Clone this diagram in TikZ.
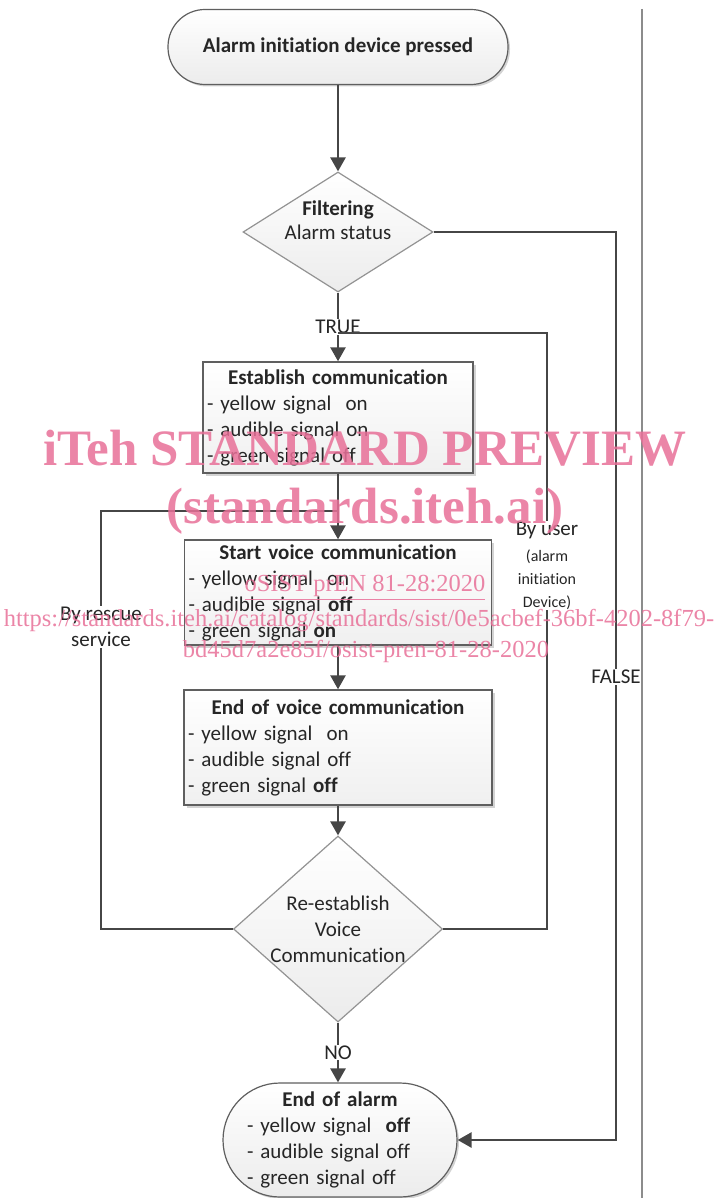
\documentclass[tikz,border=0pt]{standalone}
\usepackage{amsmath,amssymb}
\usepackage{fontspec}
\setmainfont{Carlito}[Ligatures=NoCommon]
\newfontfamily\wmfont{Liberation Serif}
\usepackage{tikz}
\usetikzlibrary{shapes,arrows.meta,positioning,calc,shadows}
\usepackage{xcolor}
\definecolor{linegray}{RGB}{70,70,70}
\definecolor{edgegray}{RGB}{95,95,95}
\definecolor{wmpink}{RGB}{232,112,152}
\newcommand{\boxtitle}[1]{\hfill\textbf{#1}\hfill\null}
\newcommand{\smalllbl}{\fontsize{16}{19}\selectfont}

\begin{document}
\begin{tikzpicture}[x=1pt, y=-1pt,
    every node/.style={font=\fontsize{21}{26}\selectfont, text=black!85},
    terminal/.style={rectangle, draw=edgegray, line width=1.2pt, top color=white, bottom color=gray!15,
        drop shadow={shadow xshift=2pt, shadow yshift=-2pt, opacity=0.35}},
    flowbox/.style={rectangle, draw=edgegray, line width=1.4pt, top color=white, bottom color=gray!12,
        drop shadow={shadow xshift=2.5pt, shadow yshift=-2.5pt, opacity=0.35},
        align=left, inner xsep=4pt, inner ysep=2pt},
    decision/.style={diamond, draw=gray!85, line width=1.2pt, top color=white, bottom color=gray!15, inner sep=0pt},
    conn/.style={draw=linegray, line width=2.6pt},
    arrow/.style={conn, -{Triangle[length=14pt, width=15pt]}},
    lbl/.style={fill=white, inner sep=1pt, align=center},
    wm/.style={text=wmpink, opacity=0.85, anchor=base, inner sep=0pt}]

    \useasboundingbox (0,0) rectangle (718,1198);

    % Start
    \node[terminal, rounded corners=37pt, minimum width=340pt, minimum height=75pt] (start) at (338,47)
        {\textbf{Alarm initiation device pressed}};

    % Filtering
    \node[decision, minimum width=190pt, minimum height=120pt] (filt) at (338,232) {};
    \node[align=center] (filttext) at (338,220) {\textbf{Filtering}\\[-2pt]Alarm status};

    % Communication steps
    \node[flowbox, text width=262pt, minimum height=111pt] (estab) at (338,417.5)
        {\boxtitle{Establish communication}\\- yellow signal \ on\\- audible signal on\\- green signal off};
    \node[flowbox, text width=299pt, minimum height=105pt] (startv) at (338,592.5)
        {\boxtitle{Start voice communication}\\- yellow signal \ on\\- audible signal \textbf{off}\\- green signal \textbf{on}};
    \node[flowbox, text width=300pt, minimum height=115pt] (endv) at (338,747.5)
        {\boxtitle{End of voice communication}\\- yellow signal \ on\\- audible signal off\\- green signal \textbf{off}};

    % Re-establish
    \node[decision, minimum width=209pt, minimum height=186pt] (reest) at (338,929) {};
    \node[align=center] (reesttext) at (338,929) {Re-establish\\Voice\\Communication};

    % End
    \node[terminal, rounded corners=57pt, minimum width=234pt, minimum height=114pt,
        text width=186pt, align=left] (endal) at (340,1140)
        {\boxtitle{End of alarm}\\- yellow signal \ \textbf{off}\\- audible signal off\\- green signal off};

    % Main flow
    \draw[arrow] (start.south) -- (filt.north);
    \draw[arrow] (filt.south) -- node[lbl] {TRUE} (estab.north);
    \draw[arrow] (estab.south) -- (startv.north);
    \draw[arrow] (startv.south) -- (endv.north);
    \draw[arrow] (endv.south) -- (reest.north);
    \draw[arrow] (reest.south) -- node[lbl] {NO} (reest.south |- endal.north);

    % Loops back
    \coordinate (userup) at (547,333);
    \coordinate (rescup) at (101,511);
    \coordinate (falsedn) at (616,1140);
    \draw[conn] (reest.east) -| node[lbl, pos=0.805]
        {By user\\{\smalllbl (alarm}\\[-3pt]{\smalllbl initiation}\\[-3pt]{\smalllbl Device)}} (userup) -- (estab.north |- userup);
    \draw[conn] (reest.west) -| node[lbl, pos=0.861] {By rescue\\service} (rescup) -- (startv.north |- rescup);
    \draw[arrow] (filt.east) -| node[lbl, pos=0.745] {FALSE} (falsedn) -- (endal.east);

    % Page edge
    \draw[gray!90, line width=1.3pt] (642,9) -- (642,1198);

    % Watermark
    \node[wm, font=\wmfont\bfseries\fontsize{51}{51}\selectfont] (wmtitle) at (365,465) {iTeh STANDARD PREVIEW};
    \node[wm, font=\wmfont\bfseries\fontsize{51}{51}\selectfont] (wmsite) at (365,523) {(standards.iteh.ai)};
    \node[wm, font=\wmfont\fontsize{24.5}{25}\selectfont] (wmdoc) at (365,591) {\underline{oSIST prEN 81-28:2020}};
    \node[wm, font=\wmfont\fontsize{24.5}{25}\selectfont] (wmurl) at (359,626)
        {https://standards.iteh.ai/catalog/standards/sist/0e5acbef-36bf-4202-8f79-};
    \node[wm, font=\wmfont\fontsize{24.5}{25}\selectfont] (wmurltwo) at (366,657) {bd45d7a2e85f/osist-pren-81-28-2020};
\end{tikzpicture}
\end{document}
